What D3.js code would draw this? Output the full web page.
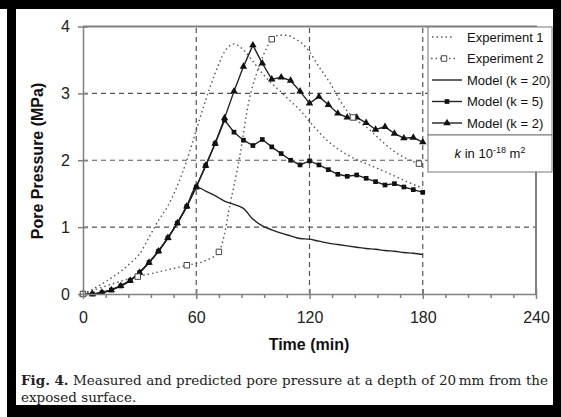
<!DOCTYPE html>
<html lang="en">
<head>
<meta charset="UTF-8" />
<title>Pore pressure at 20 mm depth</title>
<script src="https://d3js.org/d3.v7.min.js"></script>
<style>
  body { margin: 0; background: #fff; }
  svg { display: block; }
  .axis text { font-family: "Liberation Sans", Arial, sans-serif; font-size: 16px; fill: #222; }
  .axis path, .axis line { stroke: #808080; stroke-width: 1.5; }
  .grid { stroke: #555; stroke-width: 1.2; stroke-dasharray: 5,4; fill: none; }
  .frame { stroke: #808080; stroke-width: 2; fill: none; }
  .exp { fill: none; stroke: #555; stroke-width: 1.4; stroke-dasharray: 1.5,3; }
  .model { fill: none; stroke: #222; stroke-width: 1.4; }
  .leg text { font-family: "Liberation Sans", Arial, sans-serif; font-size: 13px; fill: #111; }
  .title { font-family: "Liberation Sans", Arial, sans-serif; font-size: 16px; font-weight: bold; fill: #111; }
  .cap { font-family: "DejaVu Serif", serif; font-size: 13.5px; fill: #222; }
</style>
</head>
<body>
<div id="chart"></div>
<script>
// model output, every 5 min
const modelTime = [0,5,10,15,20,25,30,35,40,45,50,55,60,65,70,75,80,85,90,95,100,105,110,115,120,125,130,135,140,145,150,155,160,165,170,175,180];
const k20 = [0,0,0.02,0.06,0.12,0.2,0.32,0.47,0.64,0.84,1.06,1.31,1.6,1.54,1.47,1.39,1.34,1.28,1.12,1.02,0.96,0.91,0.87,0.83,0.82,0.79,0.76,0.74,0.72,0.70,0.68,0.67,0.65,0.64,0.62,0.61,0.59];
const k5  = [0,0,0.02,0.06,0.12,0.2,0.32,0.47,0.64,0.84,1.06,1.31,1.6,1.92,2.25,2.6,2.42,2.3,2.22,2.31,2.2,2.1,2.0,1.93,1.99,1.93,1.86,1.79,1.76,1.78,1.73,1.68,1.63,1.65,1.6,1.56,1.52];
const k2  = [0,0,0.02,0.06,0.12,0.2,0.32,0.47,0.64,0.84,1.06,1.31,1.6,1.92,2.25,2.63,3.03,3.40,3.72,3.45,3.21,3.24,3.19,3.03,2.85,2.95,2.83,2.70,2.64,2.64,2.56,2.46,2.50,2.40,2.33,2.34,2.27];

// experiments
const exp1Time = [0,5,10,15,20,25,30,35,40,45,50,55,60,65,70,75,80,85,90,95,100,105,110,115,120,125,130,135,140,150,160,170,180];
const exp1 = [0,0.07,0.15,0.24,0.34,0.46,0.6,0.85,1.1,1.32,1.62,2.0,2.45,2.9,3.3,3.62,3.74,3.65,3.48,3.3,3.15,3.02,2.88,2.75,2.58,2.42,2.28,2.17,2.08,1.95,1.83,1.7,1.58];
const exp2Time = [0,10,20,29,40,55,65,72,75,78,80,83,88,92,96,100,104,108,112,116,120,125,131,136,143,150,157,164,171,178];
const exp2 = [0,0.1,0.19,0.26,0.33,0.43,0.5,0.63,0.9,1.36,1.62,2.05,2.9,3.3,3.6,3.81,3.87,3.87,3.82,3.75,3.62,3.4,3.15,2.9,2.64,2.5,2.32,2.15,2.03,1.95];
const exp2MarkTime = [0,29,55,72,100,143,178];
const exp2Mark = [0,0.26,0.43,0.63,3.81,2.64,1.95];

const xTicks = [0,60,120,180,240];
const xMinor = [12,24,36,48,72,84,96,108,132,144,156,168,192,204,216,228];
const yTicks = [0,1,2,3,4];
const xGrid = [60,120,180];
const yGrid = [1,2,3];
const legendNames = ["Experiment 1","Experiment 2","Model (k = 20)","Model (k = 5)","Model (k = 2)"];

const W = 561, H = 417;
const svg = d3.select("#chart").append("svg").attr("width", W).attr("height", H);

// black page border
svg.append("rect").attr("width", W).attr("height", H).attr("fill", "#000");
svg.append("rect").attr("x", 16).attr("y", 9).attr("width", 537).attr("height", 396).attr("fill", "#fff");
svg.append("rect").attr("x", 0).attr("y", 9).attr("width", 7).attr("height", H - 9).attr("fill", "#fff");

const x = d3.scaleLinear().domain([0, 240]).range([83, 536]);
const y = d3.scaleLinear().domain([0, 4]).range([294, 26.5]);

// grid
svg.append("g").selectAll("line").data(xGrid).join("line")
  .attr("class", "grid")
  .attr("x1", d => x(d)).attr("x2", d => x(d))
  .attr("y1", y(0)).attr("y2", y(4));
svg.append("g").selectAll("line").data(yGrid).join("line")
  .attr("class", "grid")
  .attr("x1", x(0)).attr("x2", x(240))
  .attr("y1", d => y(d)).attr("y2", d => y(d));

const line = d3.line().x(d => x(d[0])).y(d => y(d[1]));
const smooth = d3.line().x(d => x(d[0])).y(d => y(d[1])).curve(d3.curveMonotoneX);

svg.append("path").attr("class", "exp").attr("d", smooth(d3.zip(exp1Time, exp1)));
svg.append("path").attr("class", "exp").attr("d", smooth(d3.zip(exp2Time, exp2)));
svg.append("path").attr("class", "model").attr("d", smooth(d3.zip(modelTime, k20)));
svg.append("path").attr("class", "model").attr("d", line(d3.zip(modelTime, k2)));
svg.append("path").attr("class", "model").attr("d", line(d3.zip(modelTime, k5)));

const tri = d3.symbol(d3.symbolTriangle).size(24);
const sq = d3.symbol(d3.symbolSquare).size(22);
const osq = d3.symbol(d3.symbolSquare).size(30);

svg.append("g").selectAll("path").data(d3.zip(modelTime, k2)).join("path")
  .attr("d", tri).attr("fill", "#111")
  .attr("transform", d => `translate(${x(d[0])},${y(d[1])})`);
svg.append("g").selectAll("path").data(d3.zip(modelTime, k5)).join("path")
  .attr("d", sq).attr("fill", "#111")
  .attr("transform", d => `translate(${x(d[0])},${y(d[1])})`);
svg.append("g").selectAll("path").data(d3.zip(exp2MarkTime, exp2Mark)).join("path")
  .attr("d", osq).attr("fill", "#fff").attr("stroke", "#444").attr("stroke-width", 1)
  .attr("transform", d => `translate(${x(d[0])},${y(d[1])})`);

// plot frame top / right
svg.append("path").attr("class", "frame")
  .attr("d", `M${x(0)},${y(4)}H${x(240)}V${y(0)}`);

// axes
const xAxis = svg.append("g").attr("class", "axis")
  .attr("transform", `translate(0,${y(0)})`)
  .call(d3.axisBottom(x).tickValues(xTicks).tickSize(5).tickPadding(13).tickSizeOuter(0));
xAxis.selectAll(".tick line").attr("y1", -5);
svg.append("g").attr("class", "axis")
  .attr("transform", `translate(0,${y(0)})`)
  .call(d3.axisBottom(x).tickValues(xMinor).tickSize(4).tickFormat("").tickSizeOuter(0))
  .select(".domain").remove();

const yAxis = svg.append("g").attr("class", "axis")
  .attr("transform", `translate(${x(0)},0)`)
  .call(d3.axisLeft(y).tickValues(yTicks).tickFormat(d3.format("d")).tickSize(5).tickPadding(8).tickSizeOuter(0));
yAxis.selectAll(".tick line").attr("x1", 5);
svg.selectAll(".axis .domain").attr("stroke-width", 2);

// axis titles
svg.append("text").attr("class", "title")
  .attr("x", 309).attr("y", 350).attr("text-anchor", "middle").text("Time (min)");
svg.append("text").attr("class", "title")
  .attr("transform", "translate(43,161) rotate(-90)")
  .attr("text-anchor", "middle").text("Pore Pressure (MPa)");

// legend
const leg = svg.append("g").attr("class", "leg");
leg.append("rect").attr("x", 428).attr("y", 27).attr("width", 124).attr("height", 108)
  .attr("fill", "#fff").attr("stroke", "#777");
leg.append("rect").attr("x", 428).attr("y", 135).attr("width", 124).attr("height", 37)
  .attr("fill", "#fff").attr("stroke", "#777");
const rowY = i => 37 + i * 21.5;
legendNames.forEach((name, i) => {
  leg.append("text").attr("x", 467).attr("y", rowY(i)).attr("dy", "0.35em").text(name);
});
leg.append("line").attr("class", "exp").attr("x1", 432).attr("x2", 454).attr("y1", rowY(0)).attr("y2", rowY(0));
leg.append("line").attr("class", "exp").attr("x1", 431).attr("x2", 457).attr("y1", rowY(1)).attr("y2", rowY(1));
leg.append("path").attr("d", osq).attr("fill", "#fff").attr("stroke", "#444")
  .attr("transform", `translate(444,${rowY(1)})`);
[2, 3, 4].forEach(i => {
  leg.append("line").attr("class", "model").attr("x1", 432).attr("x2", 462).attr("y1", rowY(i)).attr("y2", rowY(i))
    .attr("stroke", i === 2 ? "#555" : "#222");
});
leg.append("path").attr("d", sq).attr("fill", "#111").attr("transform", `translate(447,${rowY(3)})`);
leg.append("path").attr("d", tri).attr("fill", "#111").attr("transform", `translate(447,${rowY(4)})`);

const kt = leg.append("text").attr("x", 490).attr("y", 158).attr("text-anchor", "middle");
kt.append("tspan").attr("font-style", "italic").text("k");
kt.append("tspan").text(" in 10");
kt.append("tspan").attr("font-size", "9px").attr("dy", -5).text("-18");
kt.append("tspan").attr("dy", 5).text(" m");
kt.append("tspan").attr("font-size", "9px").attr("dy", -5).text("2");

// caption, first line justified
const capWords = [["Fig.", true], ["4.", true], ["Measured"], ["and"], ["predicted"], ["pore"], ["pressure"],
  ["at"], ["a"], ["depth"], ["of"], ["20\u2009mm"], ["from"], ["the"]];
const cap = svg.append("g");
const nodes = capWords.map(w => cap.append("text").attr("class", "cap")
  .attr("font-weight", w[1] ? "bold" : null).attr("y", 385).text(w[0]));
const widths = nodes.map(n => n.node().getComputedTextLength());
const gap = (548 - 21 - d3.sum(widths)) / (nodes.length - 1);
let cx = 21;
nodes.forEach((n, i) => { n.attr("x", cx); cx += widths[i] + gap; });
cap.append("text").attr("class", "cap").attr("x", 21).attr("y", 402).text("exposed surface.");
</script>
</body>
</html>
